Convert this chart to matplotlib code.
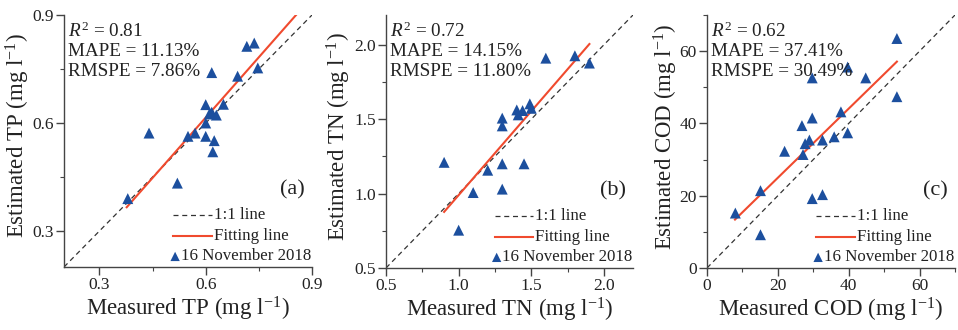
import matplotlib
matplotlib.use("Agg")
import matplotlib.pyplot as plt
from matplotlib.ticker import MultipleLocator

plt.rcParams['font.family'] = ['Liberation Serif', 'DejaVu Serif']
plt.rcParams['mathtext.fontset'] = 'custom'
plt.rcParams['mathtext.rm'] = 'Liberation Serif'
plt.rcParams['mathtext.it'] = 'Liberation Serif:italic'

# ---- data ----
tp_meas = [0.38, 0.44, 0.52, 0.55, 0.57, 0.60, 0.60, 0.60, 0.61, 0.617, 0.63, 0.62, 0.624,
           0.617, 0.65, 0.69, 0.716, 0.737, 0.747]
tp_est = [0.39, 0.572, 0.433, 0.563, 0.572, 0.563, 0.60, 0.651, 0.625, 0.63, 0.622, 0.52, 0.551,
          0.74, 0.652, 0.73, 0.813, 0.822, 0.753]
tp_fit_x = [0.377, 0.855]
tp_fit_y = [0.366, 0.90]

tn_meas = [0.90, 1.00, 1.10, 1.20, 1.30, 1.30, 1.30, 1.30, 1.45, 1.40, 1.41, 1.44, 1.49, 1.50,
           1.60, 1.80, 1.90]
tn_est = [1.21, 0.754, 1.007, 1.157, 1.20, 1.03, 1.507, 1.455, 1.20, 1.562, 1.529, 1.558, 1.603,
          1.573, 1.91, 1.926, 1.877]
tn_fit_x = [0.90, 1.90]
tn_fit_y = [0.877, 2.005]

cod_meas = [8, 15.1, 15.1, 21.9, 26.8, 27.1, 27.7, 28.9, 29.7, 29.7, 29.7, 32.6, 32.6, 35.9,
            37.8, 39.7, 39.7, 44.8, 53.6, 53.6]
cod_est = [15.2, 21.4, 9.2, 32.3, 39.4, 31.4, 34.4, 35.4, 41.5, 52.6, 19.2, 35.4, 20.3, 36.3,
           43.2, 37.4, 55.6, 52.6, 63.5, 47.4]
cod_fit_x = [7.9, 53.6]
cod_fit_y = [13.4, 57.1]

stats = [["0.81", "11.13%", "7.86%"],
         ["0.72", "14.15%", "11.80%"],
         ["0.62", "37.41%", "30.49%"]]
names = ["TP", "TN", "COD"]
tags = ["(a)", "(b)", "(c)"]
limits = [(0.2, 0.9), (0.5, 2.2), (0, 70)]
majors = [0.3, 0.5, 20]

BLUE = '#1c4f9e'
RED = '#f04a2e'
TXT = '#222222'

fig = plt.figure(figsize=(9.58, 3.3), dpi=100)
W, H = 958.0, 330.0
boxes = [(64, 267, 248, 252), (386, 268, 247, 253), (707, 268, 248, 253)]
ylab_x = [-0.128, -0.132, -0.107]

panels = [(tp_meas, tp_est, tp_fit_x, tp_fit_y),
          (tn_meas, tn_est, tn_fit_x, tn_fit_y),
          (cod_meas, cod_est, cod_fit_x, cod_fit_y)]

for i, (mx, ey, fx, fy) in enumerate(panels):
    l, b, w, h = boxes[i]
    ax = fig.add_axes([l / W, (H - b) / H, w / W, h / H])
    lo, hi = limits[i]
    ax.plot([lo, hi], [lo, hi], ls=(0, (4, 3)), color='#333333', lw=0.9)
    ax.plot(fx, fy, color=RED, lw=1.5)
    ax.scatter(mx, ey, marker='^', s=62, color=BLUE, edgecolors='none', zorder=3)
    ax.set_xlim(lo, hi)
    ax.set_ylim(lo, hi)
    ax.xaxis.set_major_locator(MultipleLocator(majors[i]))
    ax.yaxis.set_major_locator(MultipleLocator(majors[i]))
    ax.xaxis.set_minor_locator(MultipleLocator(majors[i] / 2))
    ax.yaxis.set_minor_locator(MultipleLocator(majors[i] / 2))
    if i < 2:
        ax.xaxis.set_major_formatter(plt.FormatStrFormatter('%.1f'))
        ax.yaxis.set_major_formatter(plt.FormatStrFormatter('%.1f'))
    ax.spines['top'].set_visible(False)
    ax.spines['right'].set_visible(False)
    for s in ['left', 'bottom']:
        ax.spines[s].set_color('#444444')
        ax.spines[s].set_linewidth(1.0)
    ax.tick_params(which='major', direction='out', length=6, width=1, labelsize=12.5,
                   colors='#444444', labelcolor=TXT, pad=1.5)
    ax.tick_params(which='minor', direction='out', length=3, width=0.8, colors='#444444')

    ax.set_xlabel("Measured %s (mg l$^{-1}$)" % names[i], fontsize=16.5, color=TXT)
    ax.set_ylabel("Estimated %s (mg l$^{-1}$)" % names[i], fontsize=16.5, color=TXT)
    ax.xaxis.set_label_coords(0.5, -0.11)
    ax.yaxis.set_label_coords(ylab_x[i], 0.52)

    r2, mape, rmspe = stats[i]
    ax.text(0.016, 0.934, "$R^2$ = " + r2, transform=ax.transAxes, fontsize=13.8,
            va='center', ha='left', color=TXT)
    ax.text(0.016, 0.854, "MAPE = " + mape, transform=ax.transAxes, fontsize=13.8,
            va='center', ha='left', color=TXT)
    ax.text(0.016, 0.775, "RMSPE = " + rmspe, transform=ax.transAxes, fontsize=13.8,
            va='center', ha='left', color=TXT)
    ax.text(0.97, 0.305, tags[i], transform=ax.transAxes, fontsize=16,
            va='center', ha='right', color=TXT)

    # legend drawn by hand, Origin style
    ax.plot([0.44, 0.595], [0.206, 0.206], transform=ax.transAxes, ls=(0, (4, 3)),
            color='#333333', lw=0.9, clip_on=False)
    ax.text(0.605, 0.206, "1:1 line", transform=ax.transAxes, fontsize=12.2,
            va='center', ha='left', color=TXT)
    ax.plot([0.44, 0.595], [0.123, 0.123], transform=ax.transAxes, color=RED, lw=1.5,
            clip_on=False)
    ax.text(0.605, 0.123, "Fitting line", transform=ax.transAxes, fontsize=12.2,
            va='center', ha='left', color=TXT)
    ax.scatter([0.448], [0.042], transform=ax.transAxes, marker='^', s=45, color=BLUE,
               edgecolors='none', clip_on=False)
    ax.text(0.47, 0.042, "16 November 2018", transform=ax.transAxes, fontsize=12.2,
            va='center', ha='left', color=TXT)

fig.savefig("out.png", dpi=100)
